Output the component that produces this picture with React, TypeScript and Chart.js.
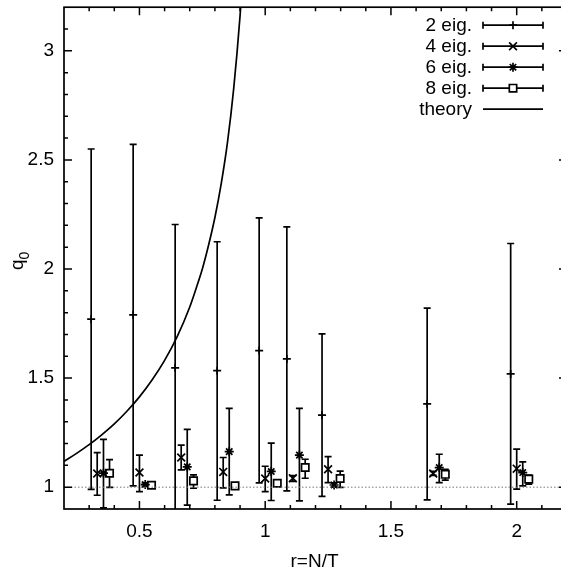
import React, { useEffect, useRef } from "react";
import { Chart, registerables } from "chart.js";
import { drawPoint } from "chart.js/helpers";

Chart.register(...registerables);

const FONT = '"Liberation Sans", Arial, Helvetica, sans-serif';
const FONT_SIZE = 19;

// Axis ticks
const xTicks = [0.5, 1, 1.5, 2];
const xTickLabels = ["0.5", "1", "1.5", "2"];
const yTicks = [1, 1.5, 2, 2.5, 3];
const yTickLabels = ["1", "1.5", "2", "2.5", "3"];

// 2 eigenvalues
const r2 = [0.308, 0.475, 0.642, 0.809, 0.976, 1.086, 1.226, 1.644, 1.976];
const q2 = [1.77, 1.79, 1.547, 1.534, 1.626, 1.588, 1.33, 1.382, 1.519];
const hi2 = [2.55, 2.571, 2.204, 2.125, 2.234, 2.193, 1.703, 1.821, 2.117];
const lo2 = [0.99, 1.006, 0.88, 0.94, 1.02, 0.983, 0.958, 0.942, 0.922];

// 4 eigenvalues
const r4 = [0.332, 0.5, 0.666, 0.833, 1.0, 1.11, 1.25, 1.668, 2.0];
const q4 = [1.063, 1.067, 1.136, 1.07, 1.04, 1.041, 1.082, 1.063, 1.085];
const hi4 = [1.158, 1.147, 1.193, 1.136, 1.096, 1.053, 1.14, 1.072, 1.174];
const lo4 = [0.963, 0.98, 1.079, 0.997, 0.98, 1.027, 1.021, 1.054, 0.991];

// 6 eigenvalues
const r6 = [0.357, 0.523, 0.69, 0.857, 1.024, 1.136, 1.274, 1.692, 2.024];
const q6 = [1.064, 1.012, 1.093, 1.163, 1.072, 1.147, 1.01, 1.09, 1.067];
const hi6 = [1.219, 1.02, 1.265, 1.361, 1.202, 1.361, 1.02, 1.151, 1.116];
const lo6 = [0.905, 1.004, 0.918, 0.965, 0.939, 0.937, 1.0, 1.021, 1.006];

// 8 eigenvalues
const r8 = [0.381, 0.548, 0.715, 0.88, 1.048, 1.159, 1.298, 1.716, 2.048];
const q8 = [1.064, 1.009, 1.029, 1.006, 1.018, 1.09, 1.04, 1.059, 1.037];
const hi8 = [1.126, 1.018, 1.056, 1.014, 1.026, 1.128, 1.074, 1.082, 1.055];
const lo8 = [0.999, 1.0, 0.995, 0.998, 1.01, 1.041, 0.999, 1.032, 1.014];

// theory curve
const thR = [0.2, 0.25, 0.3, 0.35, 0.4, 0.45, 0.5, 0.55, 0.6, 0.65, 0.7, 0.725, 0.75, 0.775, 0.8, 0.825, 0.85, 0.875, 0.9, 0.91];
const thQ = [1.118, 1.155, 1.195, 1.24, 1.29, 1.348, 1.414, 1.491, 1.581, 1.69, 1.826, 1.91, 2.0, 2.11, 2.236, 2.39, 2.58, 2.83, 3.16, 3.33];

// dotted reference line q0 = 1
const refR = [0.2, 2.2];
const refQ = [1, 1];

const CAP = 3.5;
const LW = 1.7;

const pts = (xs: number[], ys: number[]) => xs.map((v, i) => ({ x: v, y: ys[i] }));

const gpPlugin = {
  id: "gp",
  beforeDatasetsDraw(chart: any) {
    const { ctx, chartArea: a, scales } = chart;
    const x = scales.x, y = scales.y;
    ctx.save();
    ctx.beginPath();
    ctx.rect(a.left, a.top, a.right - a.left, a.bottom - a.top);
    ctx.clip();
    ctx.strokeStyle = "#000";
    ctx.lineWidth = LW;
    chart.data.datasets.forEach((ds: any) => {
      if (!ds.errLo) return;
      ds.data.forEach((p: any, i: number) => {
        const px = x.getPixelForValue(p.x);
        const pl = y.getPixelForValue(ds.errLo[i]);
        const ph = y.getPixelForValue(ds.errHi[i]);
        ctx.beginPath();
        ctx.moveTo(px, pl);
        ctx.lineTo(px, ph);
        ctx.moveTo(px - CAP, pl);
        ctx.lineTo(px + CAP, pl);
        ctx.moveTo(px - CAP, ph);
        ctx.lineTo(px + CAP, ph);
        ctx.stroke();
      });
    });
    ctx.restore();
  },
  afterDraw(chart: any) {
    const { ctx, chartArea: a, scales } = chart;
    const x = scales.x, y = scales.y;
    ctx.save();
    ctx.strokeStyle = "#000";
    ctx.lineWidth = LW;
    // border
    ctx.strokeRect(a.left, a.top, a.right - a.left, a.bottom - a.top);
    // ticks (inward, both sides)
    ctx.lineWidth = 1.5;
    ctx.beginPath();
    for (let k = 3; k <= 21; k++) {
      const v = k / 10;
      const major = k % 5 === 0;
      const len = major ? 8 : 4;
      const px = x.getPixelForValue(v);
      ctx.moveTo(px, a.bottom);
      ctx.lineTo(px, a.bottom - len);
      ctx.moveTo(px, a.top);
      ctx.lineTo(px, a.top + len);
    }
    for (let k = 10; k <= 31; k++) {
      const v = k / 10;
      const major = k % 5 === 0;
      const len = major ? 8 : 4;
      const py = y.getPixelForValue(v);
      ctx.moveTo(a.left, py);
      ctx.lineTo(a.left + len, py);
      ctx.moveTo(a.right, py);
      ctx.lineTo(a.right - len, py);
    }
    ctx.stroke();

    // x title
    ctx.fillStyle = "#000";
    ctx.font = `${FONT_SIZE}px ${FONT}`;
    ctx.textAlign = "center";
    ctx.textBaseline = "alphabetic";
    ctx.fillText("r=N/T", (a.left + a.right) / 2 - 1, 567);

    // y title q_0
    ctx.save();
    ctx.translate(23, 270);
    ctx.rotate(-Math.PI / 2);
    ctx.textAlign = "left";
    ctx.font = `${FONT_SIZE}px ${FONT}`;
    ctx.fillText("q", 0, 0);
    const wq = ctx.measureText("q").width;
    ctx.font = `14px ${FONT}`;
    ctx.fillText("0", wq, 6);
    ctx.restore();

    // legend
    const textRight = a.right - 95;
    const sL = a.right - 84;
    const sR = a.right - 24;
    const sM = (sL + sR) / 2;
    let row = 0;
    chart.data.datasets.forEach((ds: any) => {
      if (!ds.inLegend) return;
      const ry = a.top + 18 + row * 21;
      row++;
      ctx.fillStyle = "#000";
      ctx.font = `${FONT_SIZE}px ${FONT}`;
      ctx.textAlign = "right";
      ctx.textBaseline = "middle";
      ctx.fillText(ds.label, textRight, ry + 1);
      ctx.strokeStyle = "#000";
      ctx.lineWidth = LW;
      ctx.beginPath();
      ctx.moveTo(sL, ry);
      ctx.lineTo(sR, ry);
      if (ds.errLo) {
        ctx.moveTo(sL, ry - CAP);
        ctx.lineTo(sL, ry + CAP);
        ctx.moveTo(sR, ry - CAP);
        ctx.lineTo(sR, ry + CAP);
      }
      ctx.stroke();
      if (ds.errLo) {
        ctx.fillStyle = "#fff";
        ctx.strokeStyle = "#000";
        ctx.lineWidth = ds.pointBorderWidth;
        drawPoint(ctx, {
          pointStyle: ds.pointStyle,
          radius: ds.pointRadius,
          rotation: 0,
          borderWidth: ds.pointBorderWidth,
        } as any, sM, ry);
      }
    });
    ctx.restore();
  },
};

function makeSeries(label: string, xs: number[], ys: number[], lo: number[], hi: number[], style: string, radius: number) {
  return {
    label,
    data: pts(xs, ys),
    errLo: lo,
    errHi: hi,
    inLegend: true,
    showLine: false,
    pointStyle: style,
    pointRadius: radius,
    pointBorderWidth: LW,
    pointBorderColor: "#000",
    pointBackgroundColor: "rgba(255,255,255,1)",
    borderColor: "#000",
    backgroundColor: "#fff",
  };
}

export default function App() {
  const ref = useRef<HTMLCanvasElement | null>(null);
  useEffect(() => {
    if (!ref.current) return;
    const chart = new Chart(ref.current, {
      type: "scatter",
      data: {
        datasets: [
          {
            label: "ref",
            data: pts(refR, refQ),
            showLine: true,
            borderColor: "#777",
            borderWidth: 1,
            borderDash: [1.5, 2],
            pointRadius: 0,
          } as any,
          makeSeries("2 eig.", r2, q2, lo2, hi2, "cross", 4),
          makeSeries("4 eig.", r4, q4, lo4, hi4, "crossRot", 5.5),
          makeSeries("6 eig.", r6, q6, lo6, hi6, "star", 4.5),
          makeSeries("8 eig.", r8, q8, lo8, hi8, "rect", 5.2),
          {
            label: "theory",
            data: pts(thR, thQ),
            inLegend: true,
            showLine: true,
            borderColor: "#000",
            borderWidth: LW,
            pointRadius: 0,
            cubicInterpolationMode: "monotone",
          } as any,
        ],
      },
      options: {
        animation: false,
        responsive: false,
        devicePixelRatio: 1,
        events: [],
        layout: { padding: { left: 0, top: 6, right: 33, bottom: 0 } },
        plugins: { legend: { display: false }, tooltip: { enabled: false } },
        scales: {
          x: {
            type: "linear",
            min: 0.2,
            max: 2.2,
            grid: { display: false, drawTicks: false },
            border: { display: false },
            afterBuildTicks: (s: any) => {
              s.ticks = xTicks.map((v) => ({ value: v }));
            },
            afterFit: (s: any) => {
              s.height = 66;
              s.paddingLeft = 0;
              s.paddingRight = 0;
              s.paddingTop = 0;
              s.paddingBottom = 0;
            },
            ticks: {
              autoSkip: false,
              maxRotation: 0,
              padding: 11,
              color: "#000",
              font: { family: FONT, size: FONT_SIZE },
              callback: (v: any) => xTickLabels[xTicks.indexOf(Number(v))],
            },
          },
          y: {
            type: "linear",
            min: 0.9,
            max: 3.2,
            grid: { display: false, drawTicks: false },
            border: { display: false },
            afterBuildTicks: (s: any) => {
              s.ticks = yTicks.map((v) => ({ value: v }));
            },
            afterFit: (s: any) => {
              s.width = 64;
              s.paddingLeft = 0;
              s.paddingRight = 0;
              s.paddingTop = 0;
              s.paddingBottom = 0;
            },
            ticks: {
              autoSkip: false,
              padding: 10,
              color: "#000",
              font: { family: FONT, size: FONT_SIZE },
              callback: (v: any) => yTickLabels[yTicks.indexOf(Number(v))],
            },
          },
        },
      } as any,
      plugins: [gpPlugin],
    });
    return () => chart.destroy();
  }, []);
  return (
    <div style={{ position: "fixed", left: 0, top: 0, width: 561, height: 575, overflow: "hidden", background: "#fff" }}>
      <canvas ref={ref} width={600} height={575} style={{ display: "block" }} />
    </div>
  );
}
